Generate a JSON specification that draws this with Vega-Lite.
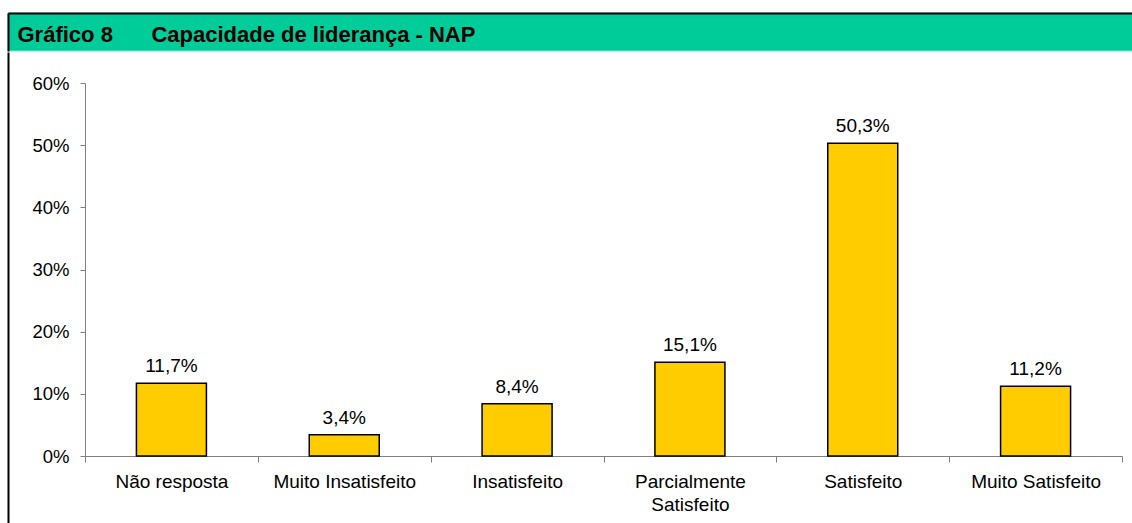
{
  "$schema": "https://vega.github.io/schema/vega-lite/v6.json",
  "padding": {"left": 7, "top": 12, "right": 0, "bottom": 0},
  "background": "white",
  "spacing": 0,
  "config": {
    "font": "Liberation Sans",
    "locale": {"number": {"decimal": ",", "thousands": ".", "grouping": [3], "currency": ["", " €"]}}
  },
  "vconcat": [
    {
      "width": 1130,
      "height": 38,
      "view": {"stroke": null},
      "layer": [
        {
          "data": {"values": [{"parte": "cabecalho"}]},
          "mark": {"type": "rect", "fill": "#00CC99", "stroke": "#7FE5CC", "strokeWidth": 1},
          "encoding": {}
        },
        {
          "data": {"values": [{"a": 0.5, "b": 0.5}]},
          "mark": {"type": "point", "opacity": 0, "size": 0},
          "encoding": {
            "x": {"field": "a", "type": "quantitative", "scale": {"domain": [0, 1]},
                  "axis": {"orient": "top", "zindex": 2, "title": "Gráfico 8\u00A0\u00A0\u00A0\u00A0\u00A0\u00A0\u200ACapacidade de liderança - NAP",
                           "titleX": 9, "titleY": 28, "titleAnchor": "start", "titleAlign": "left", "titleBaseline": "alphabetic",
                           "titleFontSize": 22, "titleFontWeight": "bold", "titleColor": "black", "titleFont": "Liberation Sans",
                           "labels": false, "ticks": false, "grid": false, "domainColor": "black", "domainWidth": 2}},
            "y": {"field": "b", "type": "quantitative", "scale": {"domain": [0, 1]},
                  "axis": {"orient": "left", "zindex": 2, "title": null, "labels": false, "ticks": false, "grid": false, "domainColor": "black", "domainWidth": 2}}
          }
        }
      ]
    },
    {
      "width": 1130,
      "height": 480,
      "view": {"stroke": null},
      "resolve": {"scale": {"y": "independent"}, "axis": {"y": "independent"}},
      "layer": [
        {
          "data": {
            "values": [
              {"categoria": "Não resposta", "valor": 0.117},
              {"categoria": "Muito Insatisfeito", "valor": 0.034},
              {"categoria": "Insatisfeito", "valor": 0.084},
              {"categoria": "Parcialmente Satisfeito", "valor": 0.151},
              {"categoria": "Satisfeito", "valor": 0.503},
              {"categoria": "Muito Satisfeito", "valor": 0.112}
            ]
          },
          "encoding": {
            "x": {
              "field": "categoria",
              "type": "nominal",
              "sort": null,
              "scale": {"range": [77, 1114], "paddingInner": 0, "paddingOuter": 0},
              "axis": {
                "title": null,
                "orient": "bottom",
                "offset": -76,
                "tickBand": "extent",
                "labelAngle": 0,
                "domainColor": "#808080",
                "tickColor": "#808080",
                "tickSize": 6,
                "labelPadding": 10,
                "labelFontSize": 19,
                "labelColor": "black",
                "labelLimit": 0,
                "labelLineHeight": 23,
                "labelExpr": "datum.value == 'Parcialmente Satisfeito' ? ['Parcialmente', 'Satisfeito'] : datum.label"
              }
            },
            "y": {
              "field": "valor",
              "type": "quantitative",
              "scale": {"domain": [0, 0.6], "range": [404, 31], "nice": false, "zero": true},
              "axis": {
                "title": null,
                "orient": "left",
                "offset": -77,
                "values": [0, 0.1, 0.2, 0.3, 0.4, 0.5, 0.6],
                "format": ".0%",
                "grid": false,
                "tickSize": 5,
                "labelPadding": 11,
                "domainColor": "#808080",
                "tickColor": "#808080",
                "labelFontSize": 18.5,
                "labelColor": "black"
              }
            }
          },
          "layer": [
            {"mark": {"type": "bar", "color": "#FFCC00", "stroke": "black", "strokeWidth": 1.5, "width": {"band": 0.405}}},
            {
              "mark": {"type": "text", "baseline": "alphabetic", "dy": -11, "fontSize": 19, "color": "black"},
              "encoding": {"text": {"field": "valor", "type": "quantitative", "format": ".1%"}}
            }
          ]
        },
        {
          "data": {"values": [{"b": 0.5}]},
          "mark": {"type": "point", "opacity": 0, "size": 0},
          "encoding": {
            "y": {"field": "b", "type": "quantitative", "scale": {"domain": [0, 1]},
                  "axis": {"orient": "left", "offset": 0, "title": null, "labels": false, "ticks": false, "grid": false, "domainColor": "black", "domainWidth": 2}}
          }
        }
      ]
    }
  ]
}
